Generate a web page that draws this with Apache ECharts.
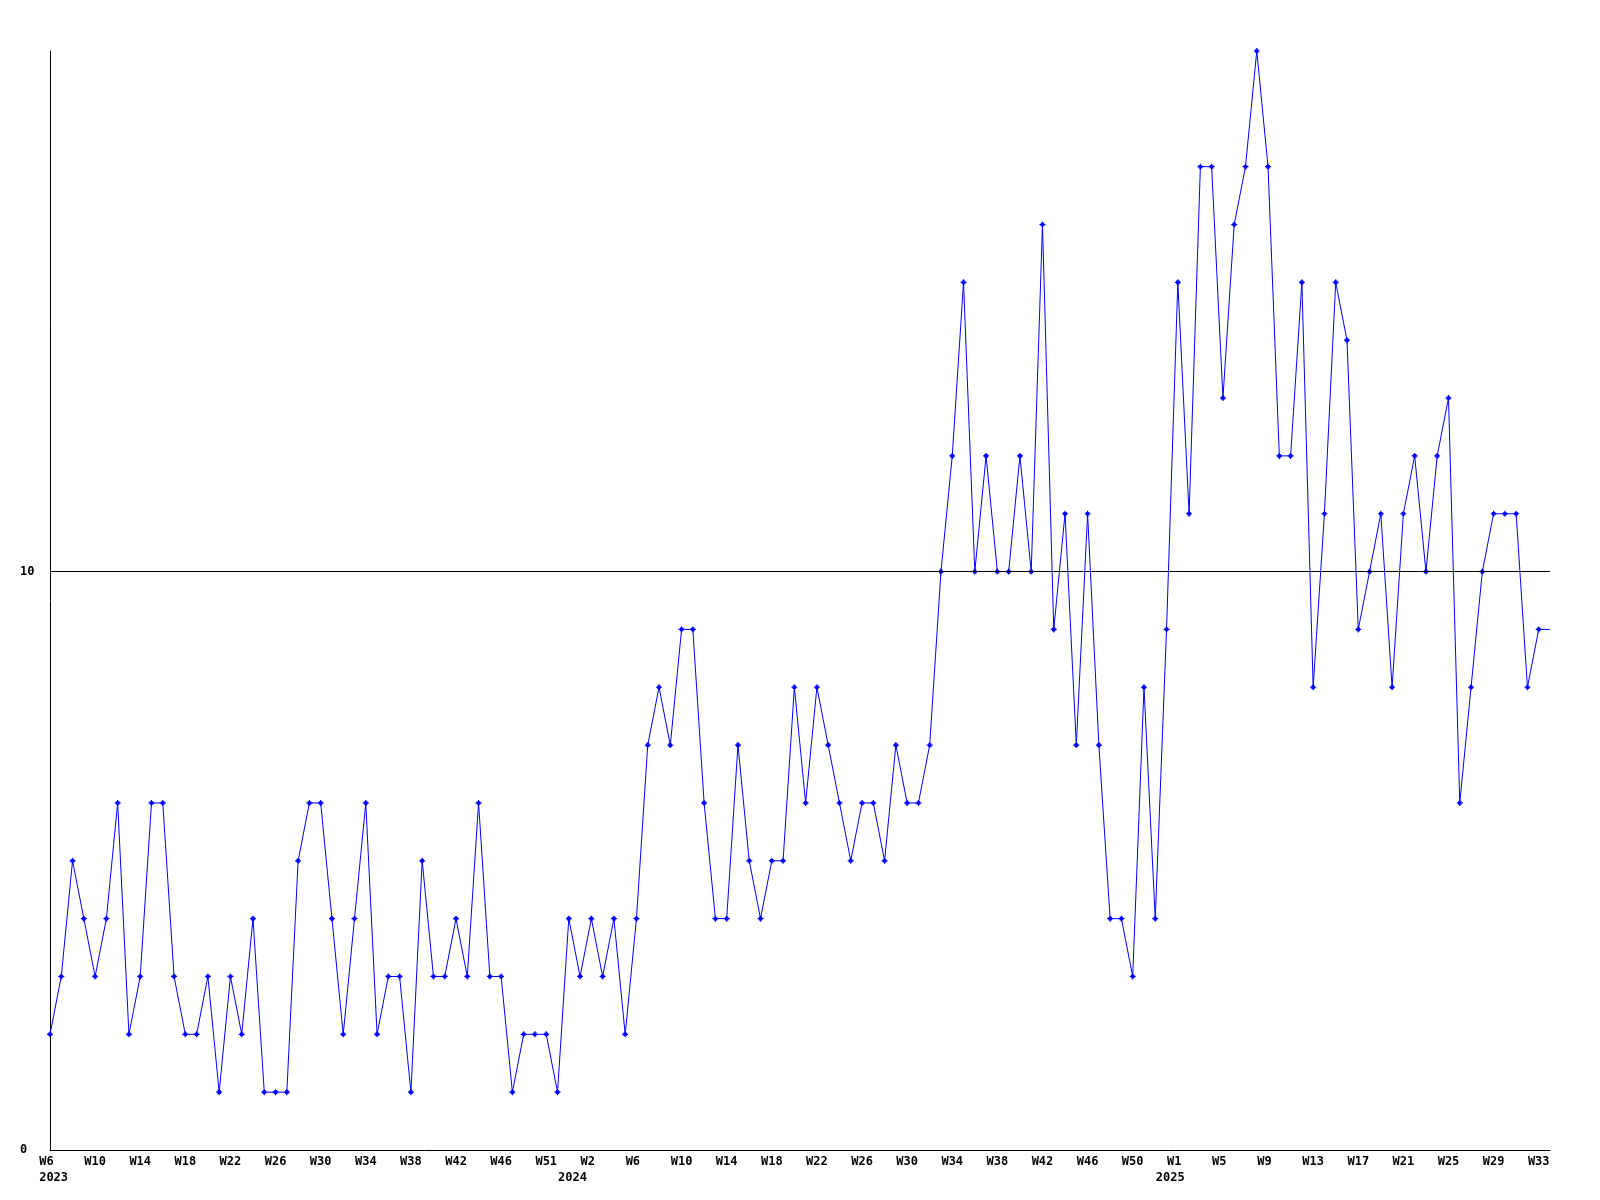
<!DOCTYPE html>
<html>
<head>
<meta charset="utf-8">
<script src="https://cdn.jsdelivr.net/npm/echarts@6/dist/echarts.min.js"></script>
<style>
  html, body { margin: 0; padding: 0; background: #ffffff; }
  #chart { width: 1600px; height: 1200px; }
</style>
</head>
<body>
<div id="chart"></div>
<script>
// Week runs that make up the category axis (year, first week, last week)
const weekRuns = [
  [2023, 6, 46],
  [2023, 48, 52],
  [2024, 0, 53],
  [2025, 1, 34]
];

// Weekly counts, one per category
const values = [
  2, 3, 5, 4, 3, 4, 6, 2, 3, 6,
  6, 3, 2, 2, 3, 1, 3, 2, 4, 1,
  1, 1, 5, 6, 6, 4, 2, 4, 6, 2,
  3, 3, 1, 5, 3, 3, 4, 3, 6, 3,
  3, 1, 2, 2, 2, 1, 4, 3, 4, 3,
  4, 2, 4, 7, 8, 7, 9, 9, 6, 4,
  4, 7, 5, 4, 5, 5, 8, 6, 8, 7,
  6, 5, 6, 6, 5, 7, 6, 6, 7, 10,
  12, 15, 10, 12, 10, 10, 12, 10, 16, 9,
  11, 7, 11, 7, 4, 4, 3, 8, 4, 9,
  15, 11, 17, 17, 13, 16, 17, 19, 17, 12,
  12, 15, 8, 11, 15, 14, 9, 10, 11, 8,
  11, 12, 10, 12, 13, 6, 8, 10, 11, 11,
  11, 8, 9, 9
];

// Year labels: category index where each year label sits
const yearTickIdx = [0, 46, 99];
const yearNames = ['2023', '2024', '2025'];

// Y axis ticks
const yMin = 0, yMax = 19, yInterval = 10;
const refLine = 10;

const categories = [];
weekRuns.forEach(([y, a, b]) => {
  for (let w = a; w <= b; w++) categories.push(y + '-W' + w);
});

const seriesData = values.map((v, i) =>
  i === values.length - 1 ? { value: v, symbol: 'none' } : v
);

const FONT = 'DejaVu Sans Mono';
const chart = echarts.init(document.getElementById('chart'), null, { renderer: 'canvas' });

chart.setOption({
  animation: false,
  backgroundColor: '#ffffff',
  grid: { left: 50, right: 50, top: 51, bottom: 50, containLabel: false },
  xAxis: [
    {
      type: 'category',
      data: categories,
      boundaryGap: false,
      position: 'bottom',
      axisLine: { show: true, lineStyle: { color: '#000000', width: 1 } },
      axisTick: { show: false },
      splitLine: { show: false },
      axisLabel: {
        interval: 3,
        margin: 6,
        color: '#000000',
        fontFamily: FONT,
        fontWeight: 'bold',
        fontSize: 12,
        formatter: (v) => v.split('-')[1].padEnd(3, ' ')
      }
    },
    {
      type: 'category',
      data: categories,
      boundaryGap: false,
      position: 'bottom',
      axisLine: { show: false },
      axisTick: { show: false },
      splitLine: { show: false },
      axisLabel: {
        interval: (idx) => yearTickIdx.indexOf(idx) >= 0,
        margin: 22,
        color: '#000000',
        fontFamily: FONT,
        fontWeight: 'bold',
        fontSize: 12,
        formatter: (v, idx) => {
          const k = yearTickIdx.indexOf(idx);
          return k >= 0 ? ' ' + yearNames[k] : '';
        }
      }
    }
  ],
  yAxis: {
    type: 'value',
    min: yMin,
    max: yMax,
    interval: yInterval,
    axisLine: { show: true, lineStyle: { color: '#000000', width: 1 } },
    axisTick: { show: false },
    splitLine: { show: false },
    axisLabel: {
      align: 'left',
      margin: 30,
      color: '#000000',
      fontFamily: FONT,
      fontWeight: 'bold',
      fontSize: 12,
      showMaxLabel: false,
      formatter: (v) => (v % yInterval === 0 ? String(v) : '')
    }
  },
  series: [
    {
      type: 'line',
      xAxisIndex: 0,
      data: seriesData,
      symbol: 'path://M2,0H3V1H4V2H5V3H4V4H3V5H2V4H1V3H0V2H1V1H2Z',
      symbolSize: 6,
      showSymbol: true,
      clip: true,
      lineStyle: { color: '#0000ff', width: 1 },
      itemStyle: { color: '#0000ff' },
      markLine: {
        silent: true,
        symbol: ['none', 'none'],
        label: { show: false },
        lineStyle: { color: '#000000', width: 1, type: 'solid' },
        data: [{ yAxis: refLine }]
      }
    }
  ]
});
</script>
</body>
</html>
